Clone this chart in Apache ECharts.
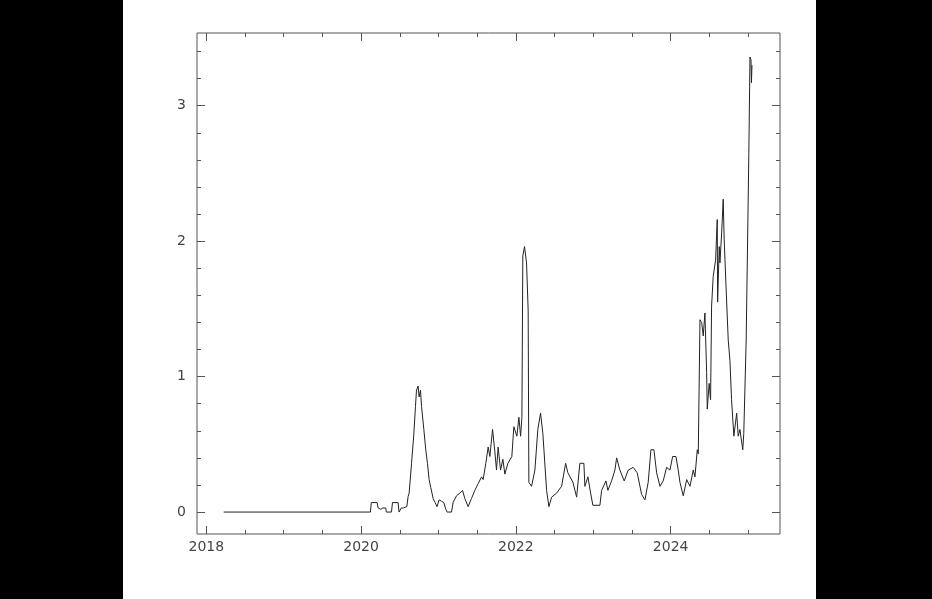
<!DOCTYPE html>
<html>
<head>
<meta charset="utf-8">
<script src="https://cdn.jsdelivr.net/npm/echarts@6/dist/echarts.min.js"></script>
<style>
  html, body { margin: 0; padding: 0; background: #000; }
  #wrap { position: relative; width: 932px; height: 599px; background: #000; overflow: hidden; }
  #panel { position: absolute; left: 123px; top: 0; width: 693px; height: 599px; background: #fff; }
  #chart { position: absolute; left: 0; top: 0; width: 932px; height: 599px; }
</style>
</head>
<body>
<div id="wrap"><div id="panel"></div><div id="chart"></div></div>
<script>
// Decimal-year dates and values
const dates = [
  2018.225, 2020.121, 2020.132, 2020.207, 2020.220, 2020.255, 2020.281, 2020.319, 2020.326, 2020.393,
  2020.406, 2020.478, 2020.491, 2020.509, 2020.520, 2020.546, 2020.552, 2020.591, 2020.608, 2020.621,
  2020.652, 2020.681, 2020.703, 2020.716, 2020.737, 2020.750, 2020.768, 2020.781, 2020.811, 2020.836,
  2020.858, 2020.879, 2020.901, 2020.931, 2020.957, 2020.982, 2021.008, 2021.039, 2021.069, 2021.095,
  2021.112, 2021.169, 2021.189, 2021.233, 2021.276, 2021.311, 2021.341, 2021.383, 2021.427, 2021.470,
  2021.513, 2021.557, 2021.577, 2021.612, 2021.642, 2021.664, 2021.699, 2021.728, 2021.750, 2021.771,
  2021.802, 2021.832, 2021.858, 2021.897, 2021.948, 2021.974, 2022.013, 2022.039, 2022.061, 2022.078,
  2022.090, 2022.112, 2022.138, 2022.159, 2022.168, 2022.203, 2022.246, 2022.284, 2022.319, 2022.349,
  2022.397, 2022.427, 2022.462, 2022.526, 2022.591, 2022.643, 2022.672, 2022.737, 2022.785, 2022.827,
  2022.879, 2022.892, 2022.931, 2022.966, 2022.995, 2023.086, 2023.108, 2023.164, 2023.189, 2023.237,
  2023.280, 2023.302, 2023.344, 2023.400, 2023.452, 2023.516, 2023.568, 2023.625, 2023.668, 2023.710,
  2023.745, 2023.784, 2023.819, 2023.862, 2023.904, 2023.948, 2023.991, 2024.026, 2024.068, 2024.098,
  2024.120, 2024.163, 2024.207, 2024.250, 2024.292, 2024.314, 2024.344, 2024.357, 2024.379, 2024.401,
  2024.421, 2024.443, 2024.465, 2024.473, 2024.498, 2024.516, 2024.529, 2024.550, 2024.581, 2024.602,
  2024.607, 2024.628, 2024.637, 2024.659, 2024.679, 2024.692, 2024.714, 2024.744, 2024.766, 2024.787,
  2024.817, 2024.853, 2024.873, 2024.895, 2024.932, 2024.945, 2024.976, 2025.010, 2025.025, 2025.038,
  2025.044, 2025.051
];
const values = [
  0.00, 0.00, 0.07, 0.07, 0.03, 0.02, 0.03, 0.03, 0.00, 0.00,
  0.07, 0.07, 0.00, 0.00, 0.03, 0.03, 0.04, 0.04, 0.115, 0.14,
  0.36, 0.57, 0.78, 0.90, 0.93, 0.85, 0.90, 0.78, 0.61, 0.46,
  0.36, 0.24, 0.18, 0.10, 0.07, 0.04, 0.09, 0.08, 0.07, 0.02,
  0.00, 0.00, 0.07, 0.12, 0.14, 0.16, 0.10, 0.04, 0.10, 0.16,
  0.21, 0.26, 0.24, 0.36, 0.48, 0.41, 0.61, 0.45, 0.31, 0.48,
  0.31, 0.39, 0.28, 0.36, 0.41, 0.63, 0.56, 0.70, 0.56, 0.70,
  1.89, 1.96, 1.84, 1.49, 0.22, 0.19, 0.31, 0.61, 0.73, 0.58,
  0.16, 0.04, 0.11, 0.14, 0.19, 0.36, 0.29, 0.22, 0.11, 0.36,
  0.36, 0.19, 0.26, 0.14, 0.05, 0.05, 0.16, 0.23, 0.16, 0.23,
  0.31, 0.40, 0.31, 0.23, 0.31, 0.33, 0.29, 0.13, 0.09, 0.22,
  0.46, 0.46, 0.29, 0.19, 0.23, 0.33, 0.31, 0.41, 0.41, 0.31,
  0.22, 0.12, 0.24, 0.19, 0.31, 0.26, 0.46, 0.43, 1.42, 1.40,
  1.30, 1.47, 1.03, 0.76, 0.95, 0.83, 1.52, 1.74, 1.86, 2.16,
  1.55, 1.96, 1.84, 2.06, 2.31, 2.01, 1.69, 1.27, 1.12, 0.83,
  0.56, 0.73, 0.56, 0.61, 0.46, 0.58, 1.27, 2.63, 3.36, 3.34,
  3.17, 3.30
];
const xMajorTicks = [2018, 2020, 2022, 2024];
const xMinorTicks = [2018.5, 2019, 2019.5, 2020.5, 2021, 2021.5, 2022.5, 2023, 2023.5, 2024.5, 2025];
const yMajorTicks = [0, 1, 2, 3];
const yMinorTicks = [0.2, 0.4, 0.6, 0.8, 1.2, 1.4, 1.6, 1.8, 2.2, 2.4, 2.6, 2.8, 3.2, 3.4];
const X_MIN = 2017.88, X_MAX = 2025.413;
const Y_MIN = -0.162, Y_MAX = 3.537;

const seriesData = dates.map((d, i) => [d, values[i]]);
const tickColor = '#555';
const labelStyle = { fontFamily: 'DejaVu Sans', fontSize: 14, color: '#444' };

function xAx(position, ticks, len, labels) {
  return {
    type: 'value', position: position, min: X_MIN, max: X_MAX,
    axisLine: { show: false, onZero: false }, splitLine: { show: false },
    axisTick: { show: true, inside: true, length: len, customValues: ticks, lineStyle: { color: tickColor, width: 1 } },
    axisLabel: labels ? Object.assign({ show: true, margin: 6, customValues: ticks, formatter: v => String(v) }, labelStyle) : { show: false }
  };
}
function yAx(position, ticks, len, labels) {
  return {
    type: 'value', position: position, min: Y_MIN, max: Y_MAX,
    axisLine: { show: false, onZero: false }, splitLine: { show: false },
    axisTick: { show: true, inside: true, length: len, customValues: ticks, lineStyle: { color: tickColor, width: 1 } },
    axisLabel: labels ? Object.assign({ show: true, margin: 11, customValues: ticks, formatter: v => String(v) }, labelStyle) : { show: false }
  };
}

const chart = echarts.init(document.getElementById('chart'), null, { renderer: 'canvas' });
chart.setOption({
  backgroundColor: 'transparent',
  animation: false,
  grid: { left: 197, right: 152, top: 33, bottom: 65, show: true, borderColor: '#555', borderWidth: 1, backgroundColor: 'transparent' },
  xAxis: [
    xAx('bottom', xMajorTicks, 8, true),
    xAx('bottom', xMinorTicks, 4, false),
    xAx('top', xMajorTicks, 8, false),
    xAx('top', xMinorTicks, 4, false)
  ],
  yAxis: [
    yAx('left', yMajorTicks, 8, true),
    yAx('left', yMinorTicks, 4, false),
    yAx('right', yMajorTicks, 8, false),
    yAx('right', yMinorTicks, 4, false)
  ],
  series: [{
    type: 'line', xAxisIndex: 0, yAxisIndex: 0, data: seriesData,
    showSymbol: false, symbol: 'none',
    lineStyle: { color: '#222', width: 1 }
  }]
});
</script>
</body>
</html>
